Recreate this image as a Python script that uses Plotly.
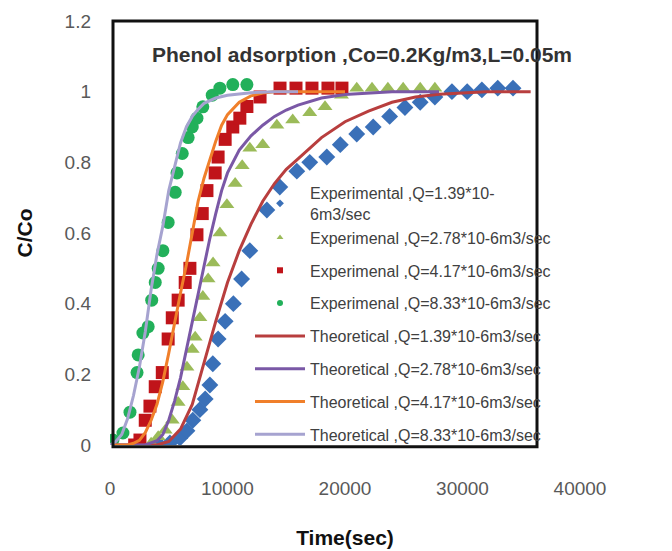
import plotly.graph_objects as go

# ---- experimental breakthrough data (time in s, C/Co) ----
t_exp_139 = [0, 4200, 5100, 5950, 6550, 7050, 7650, 8100, 8500, 8750, 9200, 9800, 10500, 11200, 11900,
             13350, 14450, 15900, 17000, 18450, 19600, 21000, 22400, 23800, 25100, 26400, 27650, 29100,
             30400, 31650, 33000, 34300]
c_exp_139 = [0, 0, 0.006, 0.02, 0.04, 0.07, 0.10, 0.13, 0.17, 0.23, 0.30, 0.35, 0.40, 0.47, 0.55,
             0.665, 0.73, 0.775, 0.80, 0.815, 0.85, 0.88, 0.90, 0.93, 0.955, 0.97, 0.985, 1.0,
             1.0, 1.005, 1.01, 1.01]

t_exp_278 = [0, 3500, 4100, 4700, 5300, 5800, 6200, 6550, 7000, 7250, 7650, 7900, 8350, 8770, 9350,
             9950, 10650, 11250, 11900, 13000, 14200, 15550, 17000, 18300, 19700, 21000, 22300, 23650,
             24950, 26400, 27650]
c_exp_278 = [0, 0.005, 0.023, 0.042, 0.07, 0.12, 0.165, 0.22, 0.27, 0.305, 0.36, 0.42, 0.47, 0.515, 0.60,
             0.68, 0.74, 0.79, 0.84, 0.85, 0.905, 0.92, 0.94, 0.957, 0.99, 1.01, 1.01, 1.01,
             1.01, 1.01, 1.01]

t_exp_417 = [0, 2100, 2550, 3000, 3400, 3850, 4450, 4950, 5300, 5800, 6400, 6800, 7400, 7850, 8250,
             8950, 9200, 9800, 10450, 11050, 11650, 12770, 14470, 15830, 17190, 18550, 19740]
c_exp_417 = [0, 0, 0.014, 0.07, 0.11, 0.165, 0.205, 0.30, 0.36, 0.41, 0.46, 0.50, 0.595, 0.655, 0.72,
             0.77, 0.815, 0.865, 0.90, 0.925, 0.958, 0.985, 1.01, 1.01, 1.01, 1.01, 1.01]

t_exp_833 = [0, 250, 1100, 1700, 2300, 2400, 2800, 3250, 3550, 3850, 4100, 4500, 4950, 5550, 5700,
             6150, 6650, 7000, 7400, 7900, 8700, 9350, 10450, 11650]
c_exp_833 = [0, 0.014, 0.034, 0.093, 0.205, 0.255, 0.317, 0.335, 0.41, 0.46, 0.50, 0.55, 0.63, 0.715, 0.77,
             0.825, 0.87, 0.90, 0.925, 0.957, 0.99, 1.01, 1.02, 1.02]

# ---- model curves ----
t_th_139 = [0, 3000, 4000, 5000, 6000, 7000, 8000, 9000, 10000, 11000, 12000, 13000, 14000, 15000,
            16000, 17000, 18000, 20000, 22000, 24000, 26000, 28000, 30000, 32000, 35800]
c_th_139 = [0, 0, 0, 0.01, 0.045, 0.115, 0.235, 0.35, 0.46, 0.55, 0.625, 0.69, 0.74, 0.78,
            0.81, 0.84, 0.87, 0.915, 0.945, 0.97, 0.985, 0.993, 0.997, 1.0, 1.0]

t_th_278 = [0, 3000, 4000, 4500, 5000, 5500, 6000, 6500, 7000, 7500, 8000, 8500, 9000, 9500, 10000,
            10500, 11000, 12000, 13000, 14000, 15000, 16000, 17000, 18000, 20000, 22000, 24000, 28000]
c_th_278 = [0, 0, 0.012, 0.03, 0.07, 0.125, 0.19, 0.27, 0.35, 0.43, 0.51, 0.585, 0.655, 0.72, 0.77,
            0.805, 0.835, 0.875, 0.905, 0.93, 0.948, 0.962, 0.973, 0.982, 0.992, 0.997, 1.0, 1.0]

t_th_417 = [0, 1500, 2000, 2500, 3000, 3500, 4000, 4500, 5000, 5500, 6000, 6500, 7000, 7500, 8000,
            8500, 9000, 9500, 10000, 11000, 12000, 13000, 14000, 20000]
c_th_417 = [0, 0, 0.005, 0.013, 0.035, 0.07, 0.115, 0.18, 0.26, 0.35, 0.43, 0.51, 0.60, 0.69, 0.755,
            0.81, 0.86, 0.905, 0.935, 0.97, 0.988, 0.996, 1.0, 1.0]

t_th_833 = [0, 500, 1000, 1500, 2000, 2500, 3000, 3500, 4000, 4500, 5000, 5500, 6000, 6500, 7000,
            7500, 8000, 9000, 10000, 12000, 14000, 16000]
c_th_833 = [0, 0.01, 0.03, 0.075, 0.14, 0.22, 0.32, 0.44, 0.54, 0.62, 0.72, 0.79, 0.855, 0.90, 0.93,
            0.95, 0.967, 0.982, 0.99, 0.997, 1.0, 1.0]

exp_names = ["Experimental ,Q=1.39*10-<br>6m3/sec",
             "Experimenal ,Q=2.78*10-6m3/sec",
             "Experimenal ,Q=4.17*10-6m3/sec",
             "Experimenal ,Q=8.33*10-6m3/sec"]
th_names = ["Theoretical ,Q=1.39*10-6m3/sec",
            "Theoretical ,Q=2.78*10-6m3/sec",
            "Theoretical ,Q=4.17*10-6m3/sec",
            "Theoretical ,Q=8.33*10-6m3/sec"]

exp_series = [(t_exp_139, c_exp_139), (t_exp_278, c_exp_278), (t_exp_417, c_exp_417), (t_exp_833, c_exp_833)]
th_series = [(t_th_139, c_th_139), (t_th_278, c_th_278), (t_th_417, c_th_417), (t_th_833, c_th_833)]

exp_symbols = ["diamond", "triangle-up", "square", "circle"]
exp_colors = ["#3a70b8", "#9bbb59", "#c0141a", "#22b05a"]
exp_sizes = [13, 13, 13, 13]
th_colors = ["#b83e3e", "#7a58a6", "#f07f2a", "#a6a3d0"]

x_ticks = [0, 10000, 20000, 30000, 40000]
y_ticks = [0, 0.2, 0.4, 0.6, 0.8, 1.0, 1.2]

FONT = "Liberation Sans, Arial, sans-serif"

fig = go.Figure()

# markers (legend handled by small-symbol entries below)
for (t, c), sym, col, sz in zip(exp_series, exp_symbols, exp_colors, exp_sizes):
    fig.add_trace(go.Scatter(x=t, y=c, mode="markers", showlegend=False,
                             marker=dict(symbol=sym, color=col, size=sz, line=dict(width=0))))

# legend entries for the experimental series
groups = ["g1", "g1", "g2", "g3"]
for name, sym, col, grp in zip(exp_names, exp_symbols, exp_colors, groups):
    fig.add_trace(go.Scatter(x=[None], y=[None], mode="markers", name=name, legendgroup=grp,
                             marker=dict(symbol=sym, color=col, size=6, line=dict(width=0))))

# model lines
for (t, c), name, col, i in zip(th_series, th_names, th_colors, range(4)):
    fig.add_trace(go.Scatter(x=t, y=c, mode="lines", name=name, legendgroup="h%d" % i,
                             line=dict(color=col, width=3)))

fig.update_layout(
    width=672, height=551,
    margin=dict(l=110, r=92, t=21, b=106, autoexpand=False),
    paper_bgcolor="white", plot_bgcolor="white",
    font=dict(family=FONT, color="#404040"),
    title=dict(text="<b>Phenol adsorption ,Co=0.2Kg/m3,L=0.05m</b>",
               x=362 / 672, xanchor="center", y=1 - 55 / 551, yanchor="middle",
               xref="container", yref="container",
               font=dict(size=21, color="#333333", family=FONT)),
    xaxis=dict(range=[0, 40000], tickvals=x_ticks, tickformat="d", showgrid=False, zeroline=False,
               showline=False, ticks="", ticklabelstandoff=30,
               tickfont=dict(size=19, color="#595959", family=FONT),
               title=dict(text="<b>Time(sec)</b>", standoff=32,
                          font=dict(size=21, color="#111111", family=FONT))),
    yaxis=dict(range=[0, 1.2], tickvals=y_ticks, showgrid=False, zeroline=False,
               showline=False, ticks="", ticklabelstandoff=18,
               tickfont=dict(size=19, color="#595959", family=FONT),
               title=dict(text="<b>C/Co</b>", standoff=26,
                          font=dict(size=21, color="#111111", family=FONT))),
    legend=dict(x=(250 - 110) / 470, xanchor="left", y=(445 - 176) / 424, yanchor="top",
                bgcolor="rgba(0,0,0,0)", borderwidth=0, traceorder="grouped",
                tracegroupgap=9, itemsizing="trace", itemwidth=50,
                font=dict(size=16, color="#404040", family=FONT)),
    shapes=[dict(type="rect", xref="paper", yref="paper",
                 x0=(113 - 110) / 470, x1=(537 - 110) / 470, y0=-0.004, y1=1.0,
                 line=dict(color="#111111", width=3), layer="above")],
)

fig.write_html("out.html")
